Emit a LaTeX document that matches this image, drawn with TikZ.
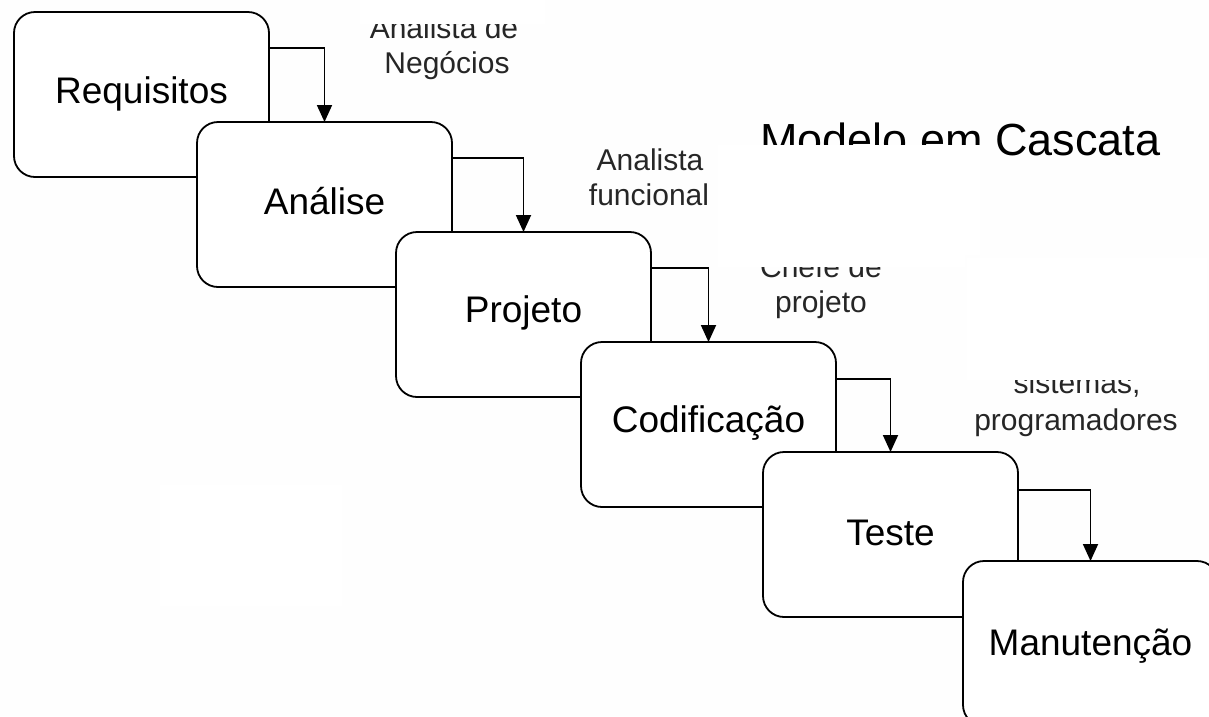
\documentclass[tikz,border=0pt]{standalone}
\usepackage{fontspec}
\setmainfont{Liberation Sans}
\usetikzlibrary{arrows.meta}
\definecolor{bgc}{RGB}{254,254,254}
\begin{document}
\begin{tikzpicture}[x=1pt,y=-1pt,
  stage/.style={draw=black, line width=1.8pt, fill=white, rounded corners=21pt,
    minimum width=255pt, minimum height=165pt, inner sep=0pt, outer sep=0pt, anchor=north west},
  stagelabel/.style={font=\fontsize{37}{40}\selectfont, anchor=base, inner sep=0pt},
  note/.style={font=\fontsize{30}{35}\selectfont, anchor=base, inner sep=0pt, text=black!85},
  titletext/.style={font=\fontsize{45}{50}\selectfont, anchor=base west, inner sep=0pt},
  flow/.style={draw=black, line width=1.8pt, -{Triangle[width=15pt,length=17pt]}},
  mask/.style={fill=white, draw=none}]
\fill[bgc] (0,0) rectangle (1209,716);
\useasboundingbox (0,0) rectangle (1209,716);
\clip (0,0) rectangle (1209,716);

% stages
\node[stage] (b1) at (14,12) {};
\draw[flow] ([yshift=-36pt]b1.north east) -| (197+127.5,122);
\node[stage] (b2) at (197,122) {};
\draw[flow] ([yshift=-36pt]b2.north east) -| (396+127.5,232);
\node[stage] (b3) at (396,232) {};
\draw[flow] ([yshift=-36pt]b3.north east) -| (581+127.5,342);
\node[stage] (b4) at (581,342) {};
\draw[flow] ([yshift=-37pt]b4.north east) -| (763+127.5,452);
\node[stage] (b5) at (763,452) {};
\draw[flow] ([yshift=-38pt]b5.north east) -| (963+127.5,561);
\node[stage] (b6) at (963,561) {};

\node[stagelabel] (l1) at ([yshift=-91pt]b1.north) {Requisitos};
\node[stagelabel] (l2) at ([yshift=-92pt]b2.north) {Análise};
\node[stagelabel] (l3) at ([yshift=-90pt]b3.north) {Projeto};
\node[stagelabel] (l4) at ([yshift=-90pt]b4.north) {Codificação};
\node[stagelabel] (l5) at ([yshift=-93pt]b5.north) {Teste};
\node[stagelabel] (l6) at ([yshift=-94pt]b6.north) {Manutenção};

% notes
\node[note] (n1a) at (444,38) {Analista de};
\node[note] (n1b) at (447,73) {Negócios};
\node[note] (n2a) at (650,170) {Analista};
\node[note] (n2b) at (649,205) {funcional};
\node[note] (n3a) at (821,277) {Chefe de};
\node[note] (n3b) at (821,312) {projeto};
\node[note] (n4a) at (1077,393) {sistemas,};
\node[note] (n4b) at (1076,430) {programadores};
\node[titletext] (ttl) at (760,155) {Modelo em Cascata};

% white patches laid over the picture
\fill[mask] (360,0) rectangle (545,24);
\fill[mask] (718,145) rectangle (980,255);
\fill[mask] (718,255) rectangle (965,267);
\fill[mask] (967,258) rectangle (1207,380);
\fill[mask] (160,485) rectangle (342,606);
\end{tikzpicture}
\end{document}
